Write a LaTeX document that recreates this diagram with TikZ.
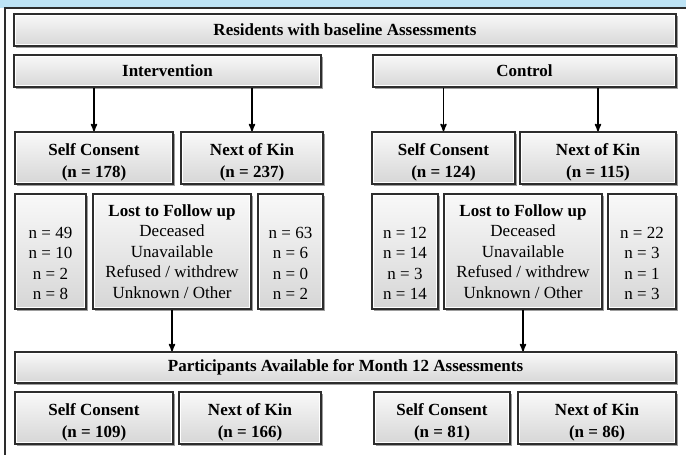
\documentclass[tikz,border=0pt]{standalone}
\usepackage{fontspec}
\setmainfont{Liberation Serif}
\usepackage{tikz}
\usetikzlibrary{arrows,shadows,positioning,calc}

\definecolor{bandblue}{RGB}{189,227,245}
\definecolor{frameline}{RGB}{45,45,45}
\newcommand{\boxfont}{\fontsize{17bp}{20.5bp}\selectfont}
\newcommand{\cellfont}{\fontsize{17bp}{21.7bp}\selectfont\bfseries}

\begin{document}
\begin{tikzpicture}[
  x=1bp,y=-1bp,
  >=stealth',
  flowbox/.style={draw=frameline,line width=1.4bp,top color=gray!5,
    bottom color=gray!32,inner sep=0,align=center,font=\boxfont,
    drop shadow={shadow xshift=1.6bp,shadow yshift=-2.4bp,fill=black!70,
      opacity=0.55},
    path picture={\draw[white,line width=3.6bp]
      (path picture bounding box.south west) rectangle
      (path picture bounding box.north east);}},
  header/.style={flowbox,font=\boxfont\bfseries,minimum height=32bp},
  cell/.style={flowbox,font=\cellfont,minimum height=52bp,
    text height=43bp,text depth=4bp},
  tally/.style={flowbox,minimum height=115bp},
  link/.style={->,draw=black,line width=1.6bp}
  ]
  \useasboundingbox (0,0) rectangle (686,455);

  % frame of the panel
  \fill[bandblue] (0,0) rectangle (686,8);
  \draw[frameline,line width=1.4bp] (686,8) -- (5,8) -- (5,455);

  % enrolment
  \node[header,minimum width=662bp] (res) at (345,30)
    {Residents with baseline Assessments};
  \node[header,minimum width=307bp] (int) at (167.5,71) {Intervention};
  \node[header,minimum width=303bp] (ctl) at (524.5,71) {Control};

  % consent groups
  \node[cell,minimum width=158bp] (isc) at (94,158)  {Self Consent\\(n = 178)};
  \node[cell,minimum width=142bp] (ink) at (252,158) {Next of Kin\\(n = 237)};
  \node[cell,minimum width=143bp] (csc) at (443.5,158) {Self Consent\\(n = 124)};
  \node[cell,minimum width=156bp] (cnk) at (598,158) {Next of Kin\\(n = 115)};

  % lost to follow up
  \node[tally,minimum width=71bp] (isl) at (50.5,251.5)
    {\strut\\n = 49\\n = 10\\n = 2\\n = 8};
  \node[tally,minimum width=158bp] (ilost) at (172,251.5)
    {\textbf{Lost to Follow up}\\Deceased\\Unavailable\\Refused / withdrew\\Unknown / Other};
  \node[tally,minimum width=65bp] (inl) at (290.5,251.5)
    {\strut\\n = 63\\n = 6\\n = 0\\n = 2};
  \node[tally,minimum width=66bp] (csl) at (405,251.5)
    {\strut\\n = 12\\n = 14\\n = 3\\n = 14};
  \node[tally,minimum width=158bp] (clost) at (523,251.5)
    {\textbf{Lost to Follow up}\\Deceased\\Unavailable\\Refused / withdrew\\Unknown / Other};
  \node[tally,minimum width=68bp] (cnl) at (642,251.5)
    {\strut\\n = 22\\n = 3\\n = 1\\n = 3};

  % month 12
  \node[header,minimum width=661bp,minimum height=31bp] (par) at (345.5,367.5)
    {Participants Available for Month 12 Assessments};
  \node[cell,minimum width=158bp] (isc12) at (94,418)  {Self Consent\\(n = 109)};
  \node[cell,minimum width=142bp] (ink12) at (250,418) {Next of Kin\\(n = 166)};
  \node[cell,minimum width=136bp] (csc12) at (442,418) {Self Consent\\(n = 81)};
  \node[cell,minimum width=158bp] (cnk12) at (597,418) {Next of Kin\\(n = 86)};

  \draw[link] (int.south -| isc.north) -- (isc.north);
  \draw[link] (int.south -| ink.north) -- (ink.north);
  \draw[link] (ctl.south -| csc.north) -- (csc.north);
  \draw[link] (ctl.south -| cnk.north) -- (cnk.north);
  \draw[link] (ilost.south) -- (ilost.south |- par.north);
  \draw[link] (clost.south) -- (clost.south |- par.north);
\end{tikzpicture}
\end{document}
